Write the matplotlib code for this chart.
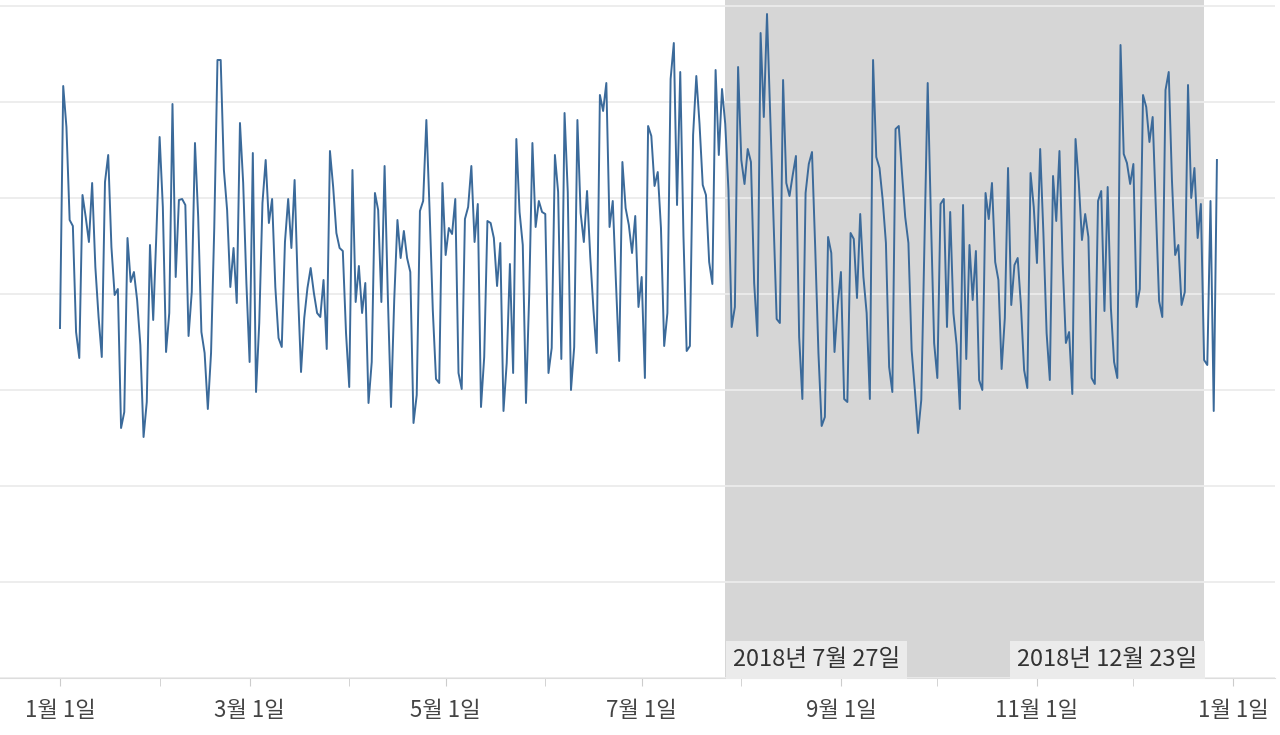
import matplotlib
matplotlib.use("Agg")
import matplotlib.pyplot as plt
import numpy as np
import datetime as dt

plt.rcParams['font.family'] = ['Noto Sans CJK KR', 'DejaVu Sans']

# daily values, day 0 = 2018-01-01
values = [
350,592,551,458,452,346,320,483,461,436,495,411,361,321,496,523,431,383,389,250,266,440,396,406,378,333,241,276,433,358,
445,541,471,326,365,574,401,478,479,473,342,386,535,461,346,325,269,325,450,618,618,508,468,391,430,375,555,495,395,316,
525,286,355,475,518,455,479,391,340,331,436,479,430,498,391,306,360,390,410,385,365,361,398,329,527,491,445,430,427,
345,291,508,376,412,365,395,275,316,485,468,376,512,383,271,378,458,420,447,420,406,255,283,467,477,558,468,368,299,295,
495,423,450,444,479,305,289,459,471,512,436,474,271,321,457,455,440,392,435,267,315,414,305,539,466,433,275,383,535,
451,477,466,464,305,330,523,486,319,565,486,288,331,558,465,436,487,421,368,325,583,567,595,451,477,395,317,516,470,
453,425,462,371,401,300,552,542,492,506,450,332,365,599,635,473,606,442,327,332,543,602,554,493,483,416,394,608,523,589,554,
488,351,371,611,518,494,529,516,395,342,645,561,664,561,461,359,355,598,495,482,503,522,341,279,485,514,526,430,325,252,
261,441,425,326,373,406,279,276,445,439,380,464,401,365,279,618,521,510,478,435,311,286,549,552,505,461,435,328,288,
245,278,436,595,461,335,300,474,479,351,466,365,333,269,473,319,433,378,427,298,288,485,459,495,416,398,309,360,510,373,
413,420,373,308,290,505,471,415,529,445,345,298,502,457,527,415,335,346,284,539,496,438,464,441,300,294,477,487,367,
491,370,316,300,633,524,515,494,514,371,389,583,571,536,561,470,377,361,588,606,498,423,433,373,386,593,480,510,440,474,318,313,477,267,518,
]
start = dt.date(2018, 1, 1)
days = np.arange(len(values))

tick_months = [1, 3, 5, 7, 9, 11, 13]
tick_labels = ["1월 1일", "3월 1일", "5월 1일", "7월 1일", "9월 1일", "11월 1일", "1월 1일"]
minor_months = [2, 4, 6, 8, 10, 12]

band_start = dt.date(2018, 7, 27)
band_end = dt.date(2018, 12, 23)
band_labels = ["2018년 7월 27일", "2018년 12월 23일"]

def dnum(y, m):
    if m == 13:
        y, m = y + 1, 1
    return (dt.date(y, m, 1) - start).days

fig = plt.figure(figsize=(12.8, 7.35), dpi=100)
ax = fig.add_axes([0, 57/735, 1275/1280, 678/735])
xl = -60/3.2137
xr = 365 + 42/3.2137
ax.set_xlim(xl, xr)
ax.set_ylim(0, 678)

b0 = (band_start - start).days
b1 = (band_end - start).days
ax.axvspan(b0, b1, color='#d6d6d6', zorder=0, lw=0)
for g in np.arange(0, 700, 96):
    ax.axhline(g, color='#ececec', lw=1.3, zorder=1)
ax.plot(days, values, color='#3b6a9a', lw=1.4, zorder=3)

ax.set_xticks([dnum(2018, m) for m in tick_months])
ax.set_xticklabels(tick_labels, fontsize=16, color='#444444')
ax.set_xticks([dnum(2018, m) for m in minor_months], minor=True)
ax.tick_params(axis='x', which='both', length=6, color='#cccccc', pad=9)
ax.set_yticks([])
for s in ['top', 'right', 'left']:
    ax.spines[s].set_visible(False)
ax.spines['bottom'].set_color('#dddddd')

bb = dict(boxstyle='square,pad=0.3', fc='#ebebeb', ec='none')
ax.text(b0 + 2.3, 18, band_labels[0], ha='left', va='center', fontsize=17, color='#333333',
        bbox=bb, zorder=4)
ax.text(b1 - 2.0, 18, band_labels[1], ha='right', va='center', fontsize=17, color='#333333',
        bbox=bb, zorder=4)

fig.savefig("out.png", dpi=100)
